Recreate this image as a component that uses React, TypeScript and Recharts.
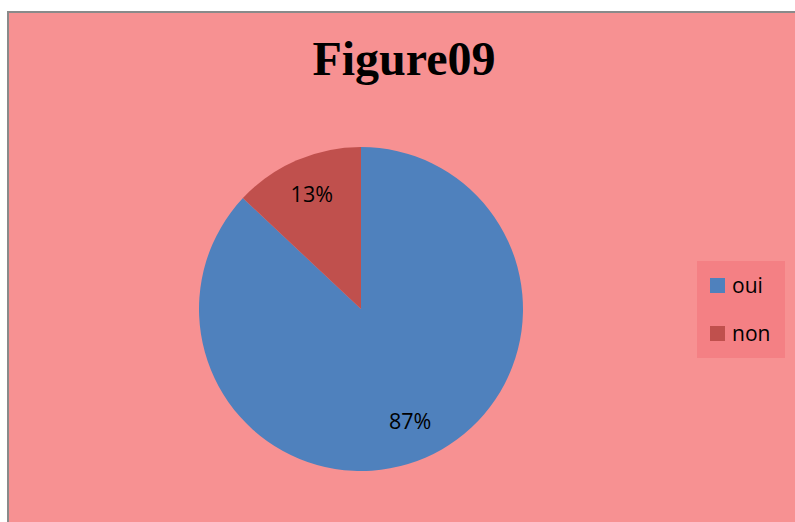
import React from 'react';
import { PieChart, Pie, Cell, Legend } from 'recharts';

const categories = ['oui', 'non'];
const values = [87, 13];
const colors = ['#4F81BD', '#C0504D'];

const data = categories.map((name, i) => ({ name, value: values[i] }));

const RAD = Math.PI / 180;

const renderLabel = (props: any) => {
  const { cx, cy, midAngle, outerRadius, percent } = props;
  const r = outerRadius * 0.765;
  const x = cx + r * Math.cos(-midAngle * RAD);
  const y = cy + r * Math.sin(-midAngle * RAD) - 2;
  return (
    <text x={x} y={y} textAnchor="middle" dominantBaseline="central" fill="#000" fontSize={21.5} fontFamily="Open Sans">
      {`${Math.round(percent * 100)}%`}
    </text>
  );
};

const LegendBox = () => (
  <div style={{ width: 88, height: 97, background: '#F48084', position: 'relative', fontFamily: 'Open Sans', fontSize: 21 }}>
    {categories.map((c, i) => (
      <div key={c} style={{ position: 'absolute', left: 13, top: 17 + i * 48, display: 'flex', alignItems: 'center', height: 15 }}>
        <span style={{ width: 15, height: 15, background: colors[i], display: 'inline-block' }} />
        <span style={{ marginLeft: 7, lineHeight: '15px' }}>{c}</span>
      </div>
    ))}
  </div>
);

const App: React.FC = () => {
  return (
    <div
      style={{
        position: 'absolute',
        left: 7,
        top: 11,
        width: 788,
        height: 511,
        boxSizing: 'border-box',
        borderTop: '2px solid #8a8a8a',
        borderLeft: '2px solid #8a8a8a',
        background: '#F79192',
        overflow: 'hidden',
      }}
    >
      <div
        style={{
          position: 'absolute',
          left: 0,
          width: 790,
          top: 18,
          textAlign: 'center',
          fontFamily: '"Liberation Serif", serif',
          fontWeight: 'bold',
          fontSize: 48,
          lineHeight: '56px',
          color: '#000',
        }}
      >
        Figure09
      </div>
      <PieChart width={786} height={509} margin={{ top: 0, right: 0, bottom: 0, left: 0 }} style={{ position: 'absolute', left: 0, top: 0 }}>
        <Pie
          data={data}
          dataKey="value"
          nameKey="name"
          cx={352}
          cy={296}
          outerRadius={162}
          startAngle={90}
          endAngle={-270}
          stroke="none"
          label={renderLabel}
          labelLine={false}
          isAnimationActive={false}
        >
          {data.map((d, i) => (
            <Cell key={d.name} fill={colors[i]} />
          ))}
        </Pie>
        <Legend
          content={<LegendBox />}
          wrapperStyle={{ position: 'absolute', left: 688, top: 248, width: 88, height: 97 }}
        />
      </PieChart>
    </div>
  );
};

export default App;
